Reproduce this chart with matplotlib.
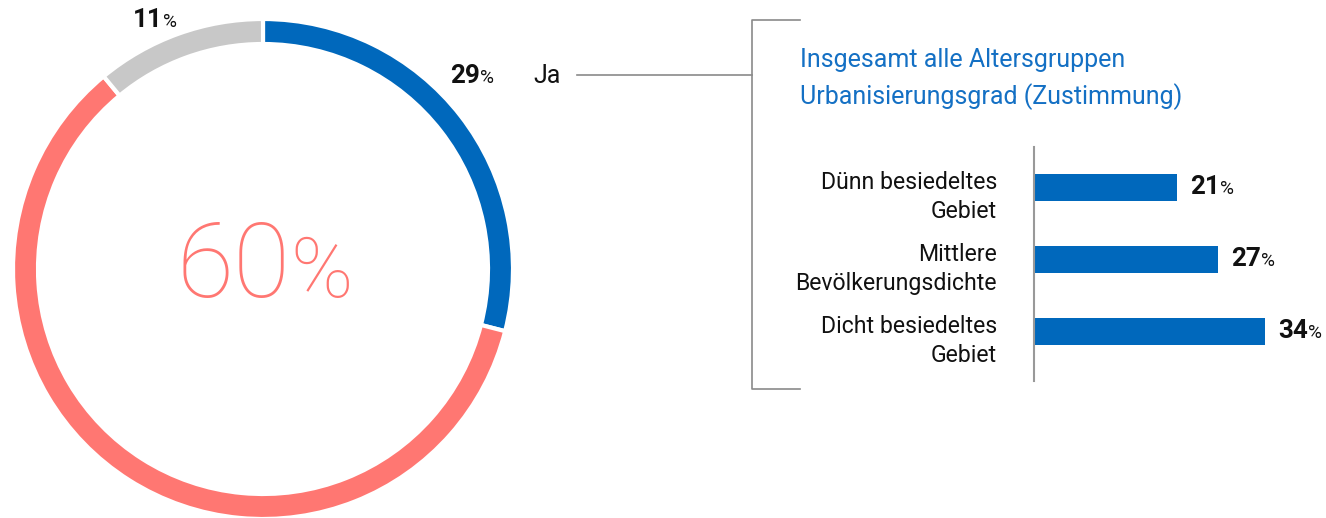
import matplotlib
matplotlib.use("Agg")
import matplotlib.pyplot as plt
from matplotlib.offsetbox import TextArea, HPacker, AnnotationBbox

# ---- data ----
donut_labels = ["Ja", "Nein", "Weiß nicht"]
donut_values = [29, 60, 11]
donut_colors = ["#0068BC", "#FF7772", "#C8C8C8"]

bar_categories = ["Dünn besiedeltes\nGebiet", "Mittlere\nBevölkerungsdichte", "Dicht besiedeltes\nGebiet"]
bar_values = [21, 27, 34]

title_lines = ["Insgesamt alle Altersgruppen", "Urbanisierungsgrad (Zustimmung)"]

BLUE = "#0068BC"
TEXT_BLUE = "#1470C4"
DARK = "#111111"
GRAY_LINE = "#8A8A8A"

FONT = ["Roboto", "DejaVu Sans"]
plt.rcParams["font.family"] = FONT

W, H = 1326, 518
fig = plt.figure(figsize=(W / 100, H / 100), dpi=100)

def px2pt(px):
    return px * 0.72

# ---- donut ----
cx, cy, R = 263, 269, 250
axd = fig.add_axes([(cx - R) / W, (H - cy - R) / H, 2 * R / W, 2 * R / H])
axd.pie(donut_values, colors=donut_colors, startangle=90, counterclock=False,
        radius=1, wedgeprops=dict(width=0.1, edgecolor="white", linewidth=3))
axd.set_xlim(-1, 1)
axd.set_ylim(-1, 1)
axd.set_aspect("equal")
axd.axis("off")

# ---- overlay in pixel coords ----
ov = fig.add_axes([0, 0, 1, 1], zorder=5)
ov.set_xlim(0, W)
ov.set_ylim(H, 0)
ov.axis("off")
ov.patch.set_alpha(0)

def pct(ax, x, y, num, big_px, small_px, color=DARK, xycoords="data", box_alignment=(0, 0.5), xybox=None):
    t1 = TextArea(str(num), textprops=dict(fontsize=px2pt(big_px), fontweight="bold", color=color))
    t2 = TextArea("%", textprops=dict(fontsize=px2pt(small_px), color=color))
    pk = HPacker(children=[t1, t2], align="baseline", pad=0, sep=0)
    kw = {}
    if xybox is not None:
        kw = dict(xybox=xybox, boxcoords="offset points")
    ab = AnnotationBbox(pk, (x, y), xycoords=xycoords, box_alignment=box_alignment,
                        frameon=False, pad=0, **kw)
    ax.add_artist(ab)

# donut labels
pct(ov, 133, 20, donut_values[2], 26, 19)
pct(ov, 450, 76, donut_values[0], 26, 19)
ov.text(533, 76, donut_labels[0], fontsize=px2pt(25), color=DARK, ha="left", va="center")

# center big value
c1 = TextArea(str(donut_values[1]), textprops=dict(fontsize=px2pt(104), fontweight="light", color=donut_colors[1]))
c2 = TextArea("%", textprops=dict(fontsize=px2pt(84), fontweight="light", color=donut_colors[1]))
cp = HPacker(children=[c1, c2], align="baseline", pad=0, sep=0)
ov.add_artist(AnnotationBbox(cp, (265, 268), xycoords="data", box_alignment=(0.5, 0.5), frameon=False, pad=0))

# connector and bracket
ov.plot([577, 752], [75, 75], color=GRAY_LINE, lw=1.2)
ov.plot([800, 752, 752, 800], [20, 20, 389, 389], color=GRAY_LINE, lw=1.2)

# titles
ov.text(800, 60, title_lines[0], fontsize=px2pt(25), color=TEXT_BLUE, ha="left", va="center")
ov.text(800, 97, title_lines[1], fontsize=px2pt(25), color=TEXT_BLUE, ha="left", va="center")

# ---- bars ----
x0, ytop, ybot = 1034, 147, 381
pxper = 6.8
axb = fig.add_axes([x0 / W, (H - ybot) / H, (W - x0) / W, (ybot - ytop) / H], zorder=4)
pos = list(range(len(bar_values)))
axb.barh(pos, bar_values, height=0.375, color=BLUE)
axb.set_xlim(0, (W - x0) / pxper)
axb.set_ylim(2 + (ybot - 331) / 72, -(187 - ytop) / 72)
axb.axis("off")
axb.patch.set_alpha(0)
axb.plot([0, 0], list(axb.get_ylim()), color="#999999", lw=1.5, clip_on=False)
for p, v in zip(pos, bar_values):
    pct(axb, v, p, v, 26, 19, xybox=(9.5, 0))

for p, c in zip(pos, bar_categories):
    yc = 187 + 72 * p + 10
    ov.text(997, yc, c, fontsize=px2pt(23), color=DARK, ha="right", va="center",
            linespacing=1.3)

fig.savefig("out.png", dpi=100)
